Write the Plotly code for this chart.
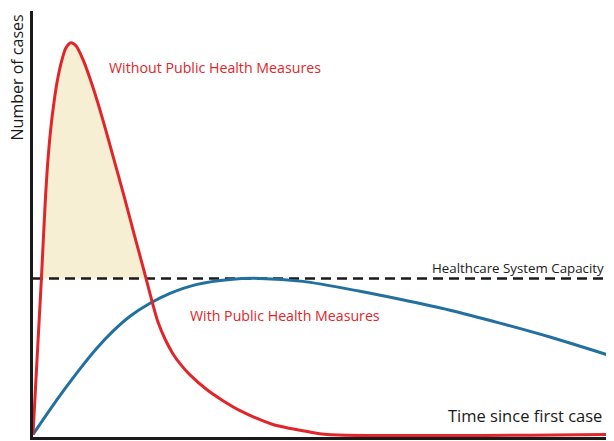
import numpy as np
import plotly.graph_objects as go

# Kurven (Zeit 0..100, Fälle 0..100)
time_red = [0, 0.69, 1.45, 2.07, 2.58, 3.10, 3.61, 4.13, 4.99, 5.68, 6.54, 7.40, 8.61,
            10.33, 12.05, 13.77, 15.66, 17.38, 18.59, 19.45, 20.48, 21.51, 22.72, 24.10,
            25.47, 27.02, 29.95, 32.70, 35.63, 41.31, 47.16, 50.60, 98.62]
cases_red = [0, 17.61, 36.85, 53.99, 65.02, 72.77, 78.40, 83.10, 88.50, 91.31, 92.49, 91.78,
             88.50, 81.92, 74.18, 65.73, 56.34, 47.42, 41.31, 36.85, 31.46, 26.53, 22.54,
             19.01, 16.43, 14.08, 10.56, 7.98, 5.63, 2.35, 0.70, 0, 0]

time_blue = [0, 2.93, 5.51, 8.09, 11.02, 13.77, 16.70, 20.14, 23.58, 28.23, 33.91, 39.07,
             46.47, 56.28, 63.17, 71.77, 80.38, 88.98, 100]
cases_blue = [0, 5.87, 10.80, 15.49, 20.42, 24.41, 27.93, 30.99, 33.33, 35.45, 36.62, 36.85,
              36.15, 33.80, 31.92, 29.34, 26.29, 23.00, 18.31]

capacity = 36.85

red = '#e0262b'
blue = '#22709f'
ink = '#1a1a1a'

fig = go.Figure()

# Fläche über der Kapazität
fill_x = time_red[2:20]
fig.add_trace(go.Scatter(x=fill_x, y=[capacity] * len(fill_x), mode='lines',
                         line=dict(width=0), hoverinfo='skip', showlegend=False))
fig.add_trace(go.Scatter(x=fill_x, y=np.maximum(cases_red[2:20], capacity), mode='lines',
                         line=dict(width=0, shape='spline', smoothing=0.8), fill='tonexty',
                         fillcolor='#f6efd3', hoverinfo='skip', showlegend=False))

fig.add_trace(go.Scatter(x=[0, 100], y=[capacity, capacity], mode='lines',
                         line=dict(color=ink, width=2.5, dash='10px,6px'), showlegend=False))
fig.add_trace(go.Scatter(x=time_blue, y=cases_blue, mode='lines',
                         line=dict(color=blue, width=3, shape='spline', smoothing=0.8),
                         showlegend=False))
fig.add_trace(go.Scatter(x=time_red, y=cases_red, mode='lines',
                         line=dict(color=red, width=3, shape='spline', smoothing=0.8),
                         showlegend=False))

font = 'Open Sans, Noto Sans, sans-serif'
fig.add_annotation(x=12.74, y=86.6, text='Without Public Health Measures', showarrow=False,
                   xanchor='left', font=dict(family=font, size=14.2, color=red))
fig.add_annotation(x=26.68, y=28.2, text='With Public Health Measures', showarrow=False,
                   xanchor='left', font=dict(family=font, size=14.2, color=red))
fig.add_annotation(x=68.3, y=39.4, text='Healthcare System Capacity', showarrow=False,
                   xanchor='left', font=dict(family=font, size=13.3, color=ink))
fig.add_annotation(x=98.28, y=4.5, text='Time since first case', showarrow=False,
                   xanchor='right', font=dict(family=font, size=16.5, color=ink))
fig.add_annotation(x=0, y=84.3, xref='paper', yref='y', xshift=-16, text='Number of cases',
                   showarrow=False, textangle=-90, xanchor='center', yanchor='middle',
                   font=dict(family=font, size=16, color=ink))

fig.update_layout(width=598, height=433, margin=dict(l=25, r=0, t=3, b=4),
                  plot_bgcolor='white', paper_bgcolor='white', showlegend=False,
                  xaxis=dict(range=[0, 98.62], showgrid=False, zeroline=False, showticklabels=False,
                             showline=True, linecolor=ink, linewidth=3),
                  yaxis=dict(range=[-0.6, 100], showgrid=False, zeroline=False, showticklabels=False,
                             showline=True, linecolor=ink, linewidth=3))

fig.write_html("out.html")
